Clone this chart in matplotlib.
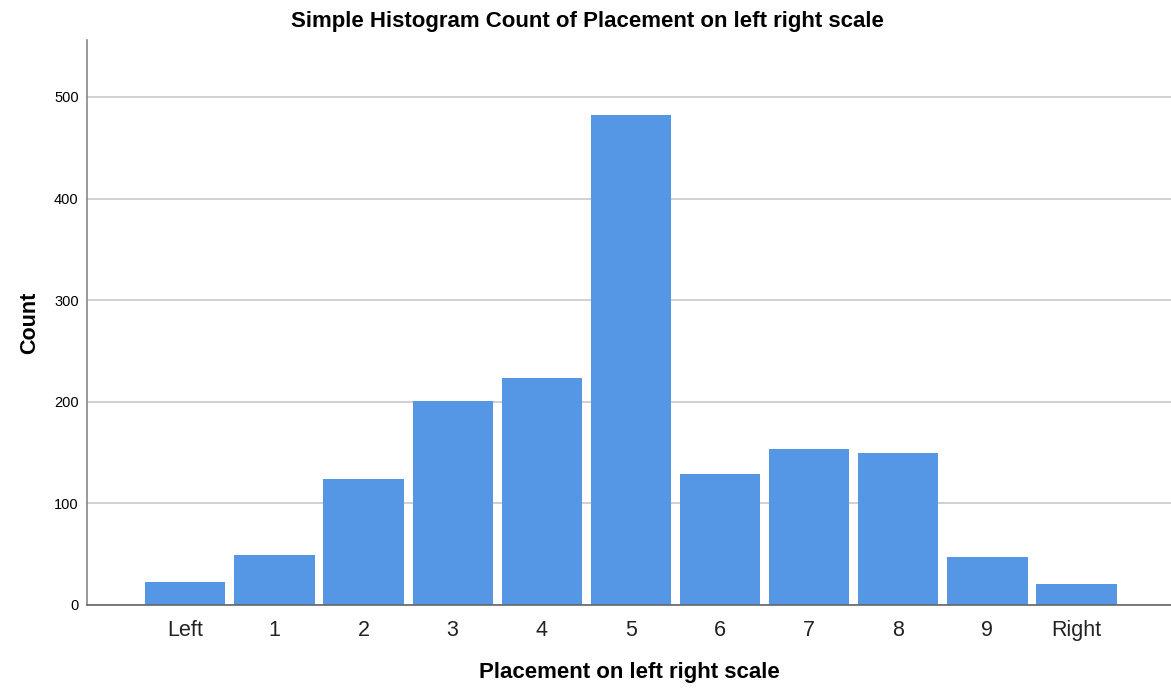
import matplotlib
matplotlib.use("Agg")
import matplotlib.pyplot as plt

# values
categories = ["Left", "1", "2", "3", "4", "5", "6", "7", "8", "9", "Right"]
counts = [23, 49, 124, 201, 223, 482, 129, 154, 150, 47, 21]
yticks = [0, 100, 200, 300, 400, 500]

plt.rcParams['font.family'] = ['Liberation Sans', 'DejaVu Sans']

fig = plt.figure(figsize=(11.71, 6.88), dpi=100)
ax = fig.add_axes([87 / 1171, 1 - 605 / 688, (1171 - 87) / 1171, (605 - 40) / 688])

x = list(range(len(categories)))
ax.bar(x, counts, width=0.9, color="#5596e5", zorder=2)

ax.set_xlim(-1.103, 11.06)
ax.set_ylim(0, 556)
ax.set_yticks(yticks)
ax.set_xticks(x)
ax.set_xticklabels(categories, fontsize=15.5, color="#222222")
ax.tick_params(axis='x', length=0, pad=11)
ax.tick_params(axis='y', length=0, labelsize=10.5, pad=6)

ax.grid(axis='y', color="#c8c8c8", linewidth=1.2, zorder=0)
for s in ["top", "right"]:
    ax.spines[s].set_visible(False)
ax.spines["left"].set_color("#888888")
ax.spines["bottom"].set_color("#666666")
ax.spines["left"].set_linewidth(1.2)
ax.spines["bottom"].set_linewidth(1.2)

ax.set_xlabel("Placement on left right scale", fontsize=16, fontweight="bold", labelpad=15)
ax.set_ylabel("Count", fontsize=15.5, fontweight="bold", labelpad=10)
fig.text(587 / 1171, 1 - 22 / 688, "Simple Histogram Count of Placement on left right scale",
         ha="center", va="center", fontsize=16, fontweight="bold")

fig.savefig("out.png", dpi=100)
